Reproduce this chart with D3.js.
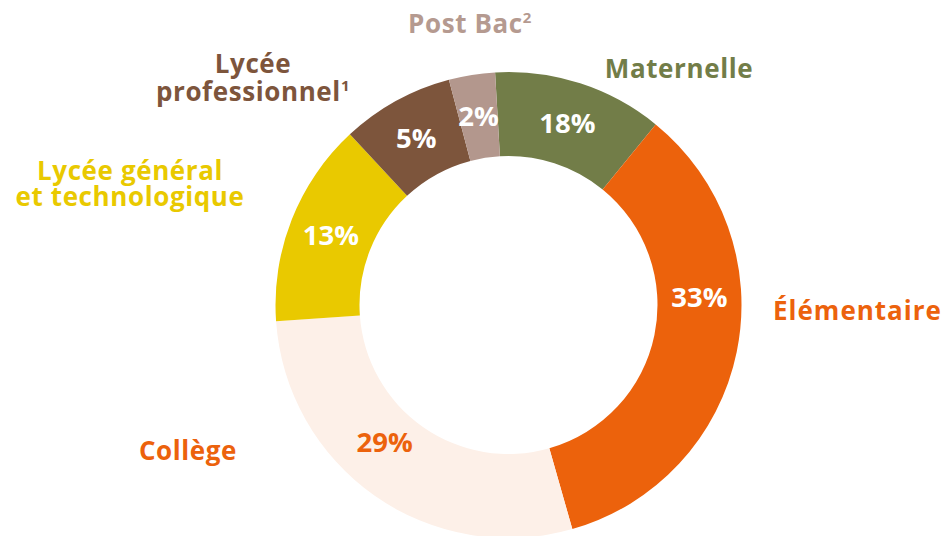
<!DOCTYPE html>
<html>
<head>
<meta charset="utf-8">
<script src="https://cdn.jsdelivr.net/npm/d3@7"></script>
<style>
  body { margin: 0; background: #fff; }
  text { font-family: "Open Sans", sans-serif; font-weight: 700; }
</style>
</head>
<body>
<script>
// categories in drawing order (clockwise from top)
var categories = ["Maternelle", "Élémentaire", "Collège", "Lycée général et technologique", "Lycée professionnel", "Post Bac"];
// arc shares as drawn in the picture
var shares = [11.8, 34.7, 28.3, 14.2, 7.8, 3.2];
// printed labels
var pctLabels = ["18%", "33%", "29%", "13%", "5%", "2%"];
var colors = ["#727d48", "#ec620c", "#fdf0e8", "#e9c900", "#7d553c", "#b3978d"];

var width = 944, height = 536;
var cx = 508.5, cy = 305, outerR = 233, innerR = 149;

var svg = d3.select("body").append("svg")
  .attr("width", width).attr("height", height);

var g = svg.append("g").attr("transform", "translate(" + cx + "," + cy + ")");

var start = -3.3 * Math.PI / 180;
var pie = d3.pie().sort(null).value(function(d){ return d; })
  .startAngle(start).endAngle(start + 2 * Math.PI);

var arc = d3.arc().innerRadius(innerR).outerRadius(outerR);

var arcs = pie(shares);

g.selectAll("path")
  .data(arcs)
  .enter().append("path")
    .attr("d", arc)
    .attr("fill", function(d,i){ return colors[i]; });

// a couple of % labels sit away from the slice middle
var nudge = [0, -14, 7, 0, 0, 0];
g.selectAll("text.pct")
  .data(arcs)
  .enter().append("text")
    .attr("class", "pct")
    .attr("transform", function(d,i){
      var a = (d.startAngle + d.endAngle) / 2 + nudge[i] * Math.PI / 180;
      var r = i == 2 ? 185 : 191;
      return "translate(" + (r * Math.sin(a)) + "," + (-r * Math.cos(a)) + ")";
    })
    .attr("text-anchor", "middle")
    .attr("dy", "0.36em")
    .attr("font-size", 27.5)
    .attr("fill", function(d,i){ return i == 2 ? "#ec620c" : "#fff"; })
    .text(function(d,i){ return pctLabels[i]; });

// outer category names
var nameColors = ["#727d48", "#ec620c", "#ec620c", "#e9c900", "#7d553c", "#b59a90"];
var nameLayout = [
  {x: 679, y: 78, anchor: "middle", lines: ["Maternelle"]},
  {x: 773, y: 320, anchor: "start", lines: ["Élémentaire"], ls: 1},
  {x: 188, y: 460, anchor: "middle", lines: ["Collège"]},
  {x: 130, y: 180, anchor: "middle", lines: ["Lycée général", "et technologique"], lh: 26},
  {x: 253, y: 73, anchor: "middle", lines: ["Lycée", "professionnel"], lh: 28, sup: "1"},
  {x: 470, y: 33, anchor: "middle", lines: ["Post Bac"], sup: "2"}
];

nameLayout.forEach(function(l, i){
  var t = svg.append("text")
    .attr("text-anchor", l.anchor)
    .attr("font-size", 26)
    .attr("letter-spacing", l.ls || 0.6)
    .attr("fill", nameColors[i]);
  l.lines.forEach(function(line, k){
    t.append("tspan")
      .attr("x", l.x)
      .attr("y", l.y + k * (l.lh || 0))
      .text(line);
  });
  if (l.sup) {
    t.append("tspan")
      .attr("font-size", 15)
      .attr("dy", -10)
      .text(l.sup);
  }
});
</script>
</body>
</html>
